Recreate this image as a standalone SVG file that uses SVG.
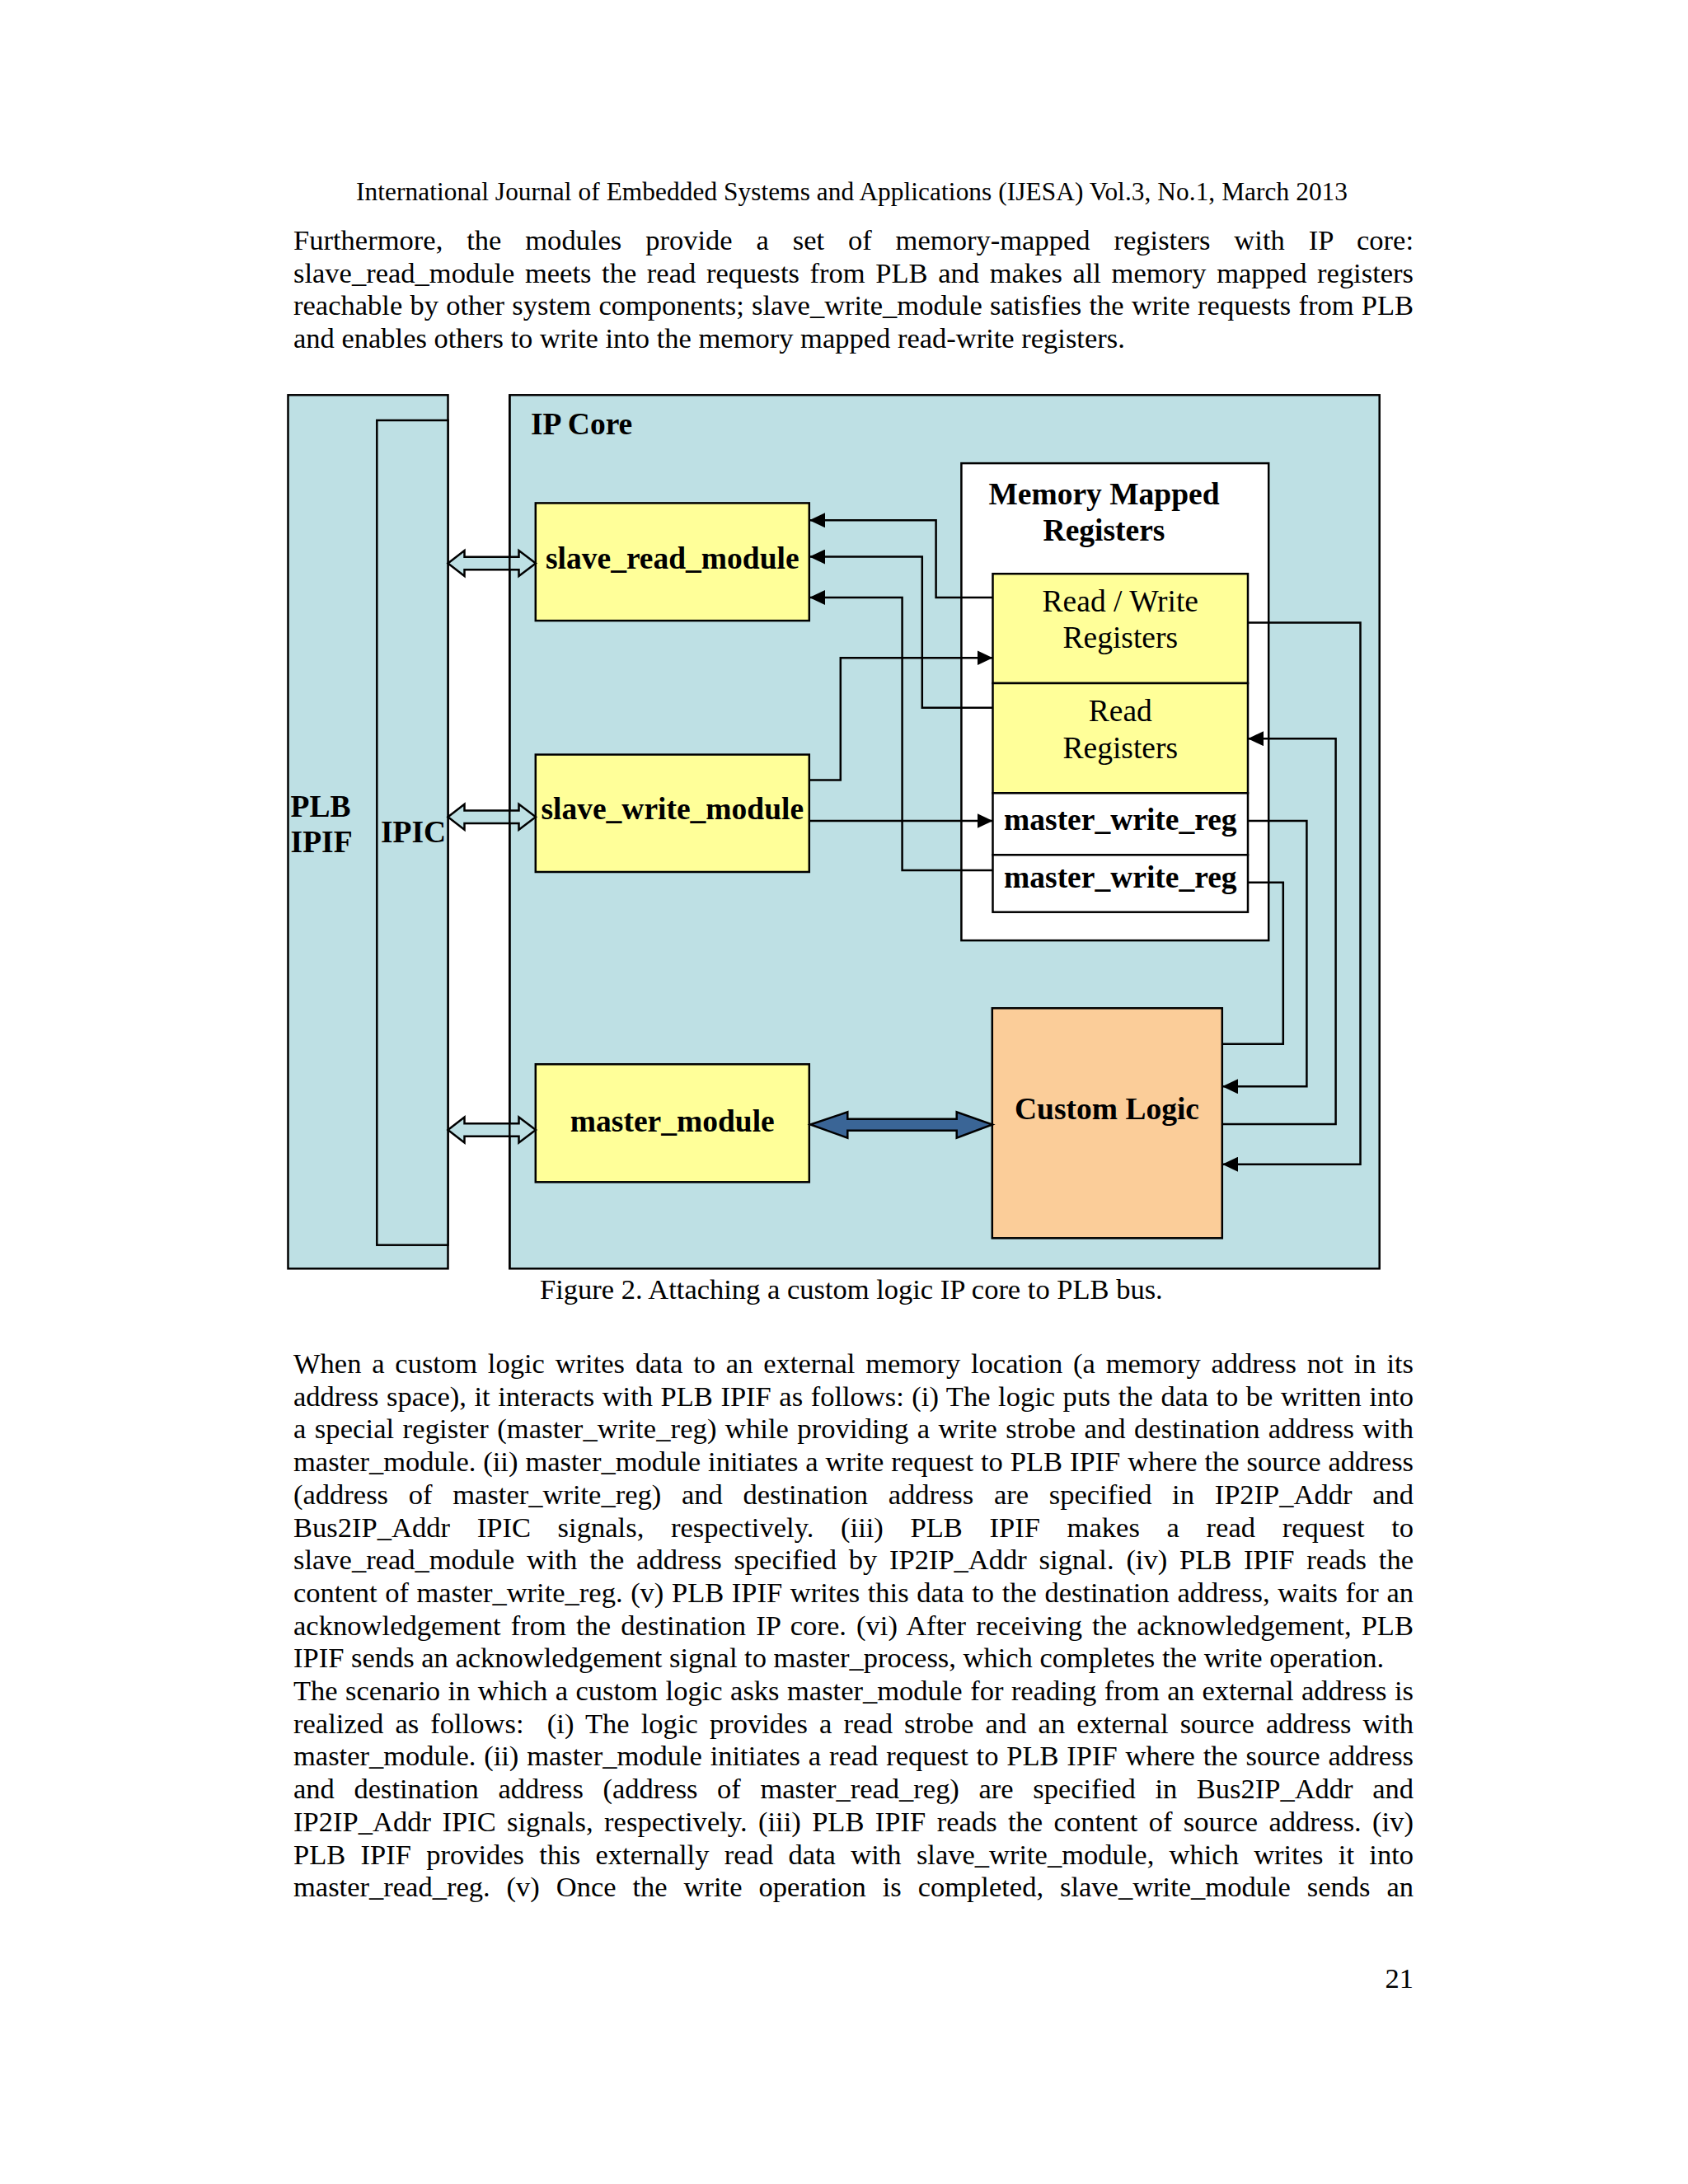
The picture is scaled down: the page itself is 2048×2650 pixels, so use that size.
<svg xmlns="http://www.w3.org/2000/svg" width="2048" height="2650" viewBox="0 0 2048 2650">
<style>
.t{font-family:"Liberation Serif","Times New Roman",serif;font-size:34.5px;fill:#000}
.h{font-family:"Liberation Serif","Times New Roman",serif;font-size:31.3px;fill:#000}
.d{font-family:"Liberation Serif","Times New Roman",serif;font-size:37.5px;font-weight:bold;fill:#000}
.dr{font-family:"Liberation Serif","Times New Roman",serif;font-size:37.5px;fill:#000}
.c{text-anchor:middle}
.box{stroke:#000;stroke-width:2.5}
.bg{fill:#BEE0E4}
.yel{fill:#FFFF99}
.wht{fill:#FFFFFF}
.org{fill:#FBCD99}
.ln{fill:none;stroke:#000;stroke-width:2.5}
.harr{fill:#BEE0E4;stroke:#000;stroke-width:2.5;stroke-linejoin:miter}
.barr{fill:#3A6596;stroke:#000;stroke-width:2.5;stroke-linejoin:miter}
</style>
<defs>
<marker id="ah" markerUnits="userSpaceOnUse" markerWidth="20" markerHeight="18" refX="19" refY="9" orient="auto"><path d="M0,0 L19,9 L0,18 Z" fill="#000"/></marker>
</defs>
<rect width="2048" height="2650" fill="#fff"/>

<g id="page-text">
<text class="h" x="432" y="243" textLength="1203" lengthAdjust="spacing">International Journal of Embedded Systems and Applications (IJESA) Vol.3, No.1, March 2013</text>
<text class="t" x="356" y="303" word-spacing="20.2" textLength="1359" lengthAdjust="spacing">Furthermore, the modules provide a set of memory-mapped registers with IP core:</text>
<text class="t" x="356" y="342.7" word-spacing="4" textLength="1359" lengthAdjust="spacing">slave_read_module meets the read requests from PLB and makes all memory mapped registers</text>
<text class="t" x="356" y="382.4" word-spacing="0.6" textLength="1359" lengthAdjust="spacing">reachable by other system components; slave_write_module satisfies the write requests from PLB</text>
<text class="t" x="356" y="422.1">and enables others to write into the memory mapped read-write registers.</text>

<text class="t" x="655" y="1575.5">Figure 2. Attaching a custom logic IP core to PLB bus.</text>

<text class="t" x="356" y="1666" word-spacing="4.2" textLength="1359" lengthAdjust="spacing">When a custom logic writes data to an external memory location (a memory address not in its</text>
<text class="t" x="356" y="1705.7" word-spacing="0.9" textLength="1359" lengthAdjust="spacing">address space), it interacts with PLB IPIF as follows: (i) The logic puts the data to be written into</text>
<text class="t" x="356" y="1745.4" word-spacing="1.6" textLength="1359" lengthAdjust="spacing">a special register (master_write_reg) while providing a write strobe and destination address with</text>
<text class="t" x="356" y="1785.1" word-spacing="0.3" textLength="1359" lengthAdjust="spacing">master_module. (ii) master_module initiates a write request to PLB IPIF where the source address</text>
<text class="t" x="356" y="1824.8" word-spacing="16.1" textLength="1359" lengthAdjust="spacing">(address of master_write_reg) and destination address are specified in IP2IP_Addr and</text>
<text class="t" x="356" y="1864.5" word-spacing="24" textLength="1359" lengthAdjust="spacing">Bus2IP_Addr IPIC signals, respectively. (iii) PLB IPIF makes a read request to</text>
<text class="t" x="356" y="1904.2" word-spacing="6.2" textLength="1359" lengthAdjust="spacing">slave_read_module with the address specified by IP2IP_Addr signal. (iv) PLB IPIF reads the</text>
<text class="t" x="356" y="1943.9" word-spacing="1" textLength="1359" lengthAdjust="spacing">content of master_write_reg. (v) PLB IPIF writes this data to the destination address, waits for an</text>
<text class="t" x="356" y="1983.6" word-spacing="3.4" textLength="1359" lengthAdjust="spacing">acknowledgement from the destination IP core. (vi) After receiving the acknowledgement, PLB</text>
<text class="t" x="356" y="2023.3">IPIF sends an acknowledgement signal to master_process, which completes the write operation.</text>
<text class="t" x="356" y="2063" word-spacing="0.85" textLength="1359" lengthAdjust="spacing">The scenario in which a custom logic asks master_module for reading from an external address is</text>
<text class="t" x="356" y="2102.7" word-spacing="5.5" textLength="1359" lengthAdjust="spacing">realized as follows:&#160; (i) The logic provides a read strobe and an external source address with</text>
<text class="t" x="356" y="2142.4" word-spacing="1.2" textLength="1359" lengthAdjust="spacing">master_module. (ii) master_module initiates a read request to PLB IPIF where the source address</text>
<text class="t" x="356" y="2182.1" word-spacing="15" textLength="1359" lengthAdjust="spacing">and destination address (address of master_read_reg) are specified in Bus2IP_Addr and</text>
<text class="t" x="356" y="2221.8" word-spacing="4.7" textLength="1359" lengthAdjust="spacing">IP2IP_Addr IPIC signals, respectively. (iii) PLB IPIF reads the content of source address. (iv)</text>
<text class="t" x="356" y="2261.5" word-spacing="9.7" textLength="1359" lengthAdjust="spacing">PLB IPIF provides this externally read data with slave_write_module, which writes it into</text>
<text class="t" x="356" y="2301.2" word-spacing="11.3" textLength="1359" lengthAdjust="spacing">master_read_reg. (v) Once the write operation is completed, slave_write_module sends an</text>
<text class="t" x="1715" y="2411.7" text-anchor="end">21</text>
</g>

<g id="plb-ipif">
<rect class="box bg" x="349.5" y="479.3" width="194" height="1060"/>
<text class="d" x="352.6" y="991">PLB</text>
<text class="d" x="352.6" y="1034">IPIF</text>
</g>
<g id="ipic">
<rect class="box bg" x="457.3" y="510" width="86.2" height="1000.7"/>
<text class="d" x="462" y="1022">IPIC</text>
</g>
<g id="ip-core">
<rect class="box bg" x="618.3" y="479.3" width="1055.4" height="1060"/>
<text class="d" x="644" y="527">IP Core</text>
</g>
<g id="slave-read-module">
<rect class="box yel" x="649.8" y="610.4" width="332" height="142.7"/>
<text class="d c" x="815.8" y="690">slave_read_module</text>
</g>
<g id="slave-write-module">
<rect class="box yel" x="649.8" y="915.6" width="332" height="142.4"/>
<text class="d c" x="815.8" y="994">slave_write_module</text>
</g>
<g id="master-module">
<rect class="box yel" x="649.8" y="1291.3" width="332" height="143"/>
<text class="d c" x="815.8" y="1373">master_module</text>
</g>
<g id="memory-mapped-registers">
<rect class="box wht" x="1166.4" y="562.1" width="372.8" height="579"/>
<text class="d c" x="1339.5" y="611.6">Memory Mapped</text>
<text class="d c" x="1339.5" y="655.8">Registers</text>
</g>
<g id="read-write-registers">
<rect class="box yel" x="1204.5" y="696.2" width="309.5" height="132.8"/>
<text class="dr c" x="1359.3" y="741.6">Read / Write</text>
<text class="dr c" x="1359.3" y="786.3">Registers</text>
</g>
<g id="read-registers">
<rect class="box yel" x="1204.5" y="829" width="309.5" height="133.3"/>
<text class="dr c" x="1359.3" y="875.3">Read</text>
<text class="dr c" x="1359.3" y="919.6">Registers</text>
</g>
<g id="master-write-reg-1">
<rect class="box wht" x="1204.5" y="962.3" width="309.5" height="75"/>
<text class="d c" x="1359.3" y="1006.6">master_write_reg</text>
</g>
<g id="master-write-reg-2">
<rect class="box wht" x="1204.5" y="1037.3" width="309.5" height="69.4"/>
<text class="d c" x="1359.3" y="1076.7">master_write_reg</text>
</g>
<g id="custom-logic">
<rect class="box org" x="1203.8" y="1223.3" width="279" height="279"/>
<text class="d c" x="1343" y="1358">Custom Logic</text>
</g>

<g id="connectors">
<path class="harr" d="M543.5,683.5 L563.5,668 L563.5,675.7 L629.5,675.7 L629.5,668 L650,683.5 L629.5,699 L629.5,691.3 L563.5,691.3 L563.5,699 Z"/>
<path class="harr" d="M543.5,991.3 L563.5,975.8 L563.5,983.5 L629.5,983.5 L629.5,975.8 L650,991.3 L629.5,1006.8 L629.5,999.1 L563.5,999.1 L563.5,1006.8 Z"/>
<path class="harr" d="M543.5,1371 L563.5,1355.5 L563.5,1363.2 L629.5,1363.2 L629.5,1355.5 L650,1371 L629.5,1386.5 L629.5,1378.8 L563.5,1378.8 L563.5,1386.5 Z"/>
<path class="barr" d="M983.3,1364.5 L1028.3,1349.3 L1028.3,1357.7 L1160.7,1357.7 L1160.7,1349.3 L1204,1364.5 L1160.7,1380.7 L1160.7,1371.7 L1028.3,1371.7 L1028.3,1380.7 Z"/>
<path class="ln" d="M1204.5,725 H1135.6 V631.3 H982" marker-end="url(#ah)"/>
<path class="ln" d="M1204.5,858.7 H1118.8 V675.6 H982" marker-end="url(#ah)"/>
<path class="ln" d="M1204.5,1056 H1094.6 V725 H982" marker-end="url(#ah)"/>
<path class="ln" d="M982,946.5 H1019.8 V798.2 H1204.5" marker-end="url(#ah)"/>
<path class="ln" d="M982,995.9 H1204.5" marker-end="url(#ah)"/>
<path class="ln" d="M1514,755.5 H1650.5 V1412.7 H1483" marker-end="url(#ah)"/>
<path class="ln" d="M1483,1364 H1620.6 V896.2 H1514" marker-end="url(#ah)"/>
<path class="ln" d="M1514,995.9 H1585.4 V1318.3 H1483" marker-end="url(#ah)"/>
<path class="ln" d="M1514,1070.7 H1556.8 V1266.7 H1483"/>
</g>
<g id="ip-core-edge">
<line x1="618.3" y1="479.3" x2="618.3" y2="1539.3" stroke="#000" stroke-width="2.5"/>
</g>
</svg>
